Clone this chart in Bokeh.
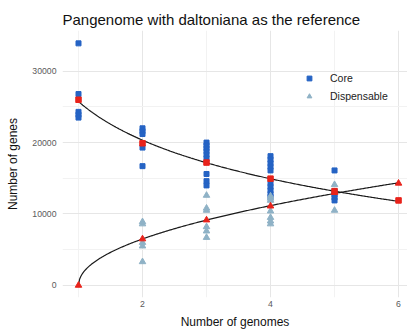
import numpy as np
from bokeh.plotting import figure
from bokeh.models import FixedTicker, Legend, LegendItem, Range1d
from bokeh.embed import file_html
from bokeh.resources import INLINE

# Core genes per genome count (individual combinations)
core_x = [1]*5 + [2]*5 + [3]*9 + [4]*10 + [5]*5
core_y = [33900, 26800, 24300, 23900, 23500,
          22000, 21600, 21200, 19300, 16700,
          20000, 19600, 19200, 18800, 18300, 17800, 15600, 14600, 14000,
          18100, 17600, 17100, 16600, 16100, 14300, 13800, 13300, 12800, 12400,
          16100, 13200, 12700, 12300, 11900]

# Dispensable genes per genome count
disp_x = [2]*5 + [3]*6 + [4]*7 + [5]*2
disp_y = [8900, 8600, 6000, 5500, 3300,
          12600, 10800, 10500, 8200, 7600, 6700,
          12500, 12200, 11900, 10400, 9500, 9000, 8600,
          14100, 10500]

# Mean values per genome count
n_genomes = [1, 2, 3, 4, 5, 6]
core_mean = [26000, 19900, 17200, 14950, 13200, 11900]
disp_mean = [0, 6500, 9150, 11100, 13000, 14300]

x_ticks = [2, 4, 6]
y_ticks = [0, 10000, 20000, 30000]

# Fitted curves: core ~ a + b*ln(n), dispensable ~ a*(n-1)^b
gx = np.linspace(1, 6, 300)
cb, ca = np.polyfit(np.log(n_genomes), core_mean, 1)
core_fit = ca + cb * np.log(gx)
lx = np.log(np.array(n_genomes[1:]) - 1.0)
db, dla = np.polyfit(lx, np.log(disp_mean[1:]), 1)
disp_fit = np.exp(dla) * (gx - 1.0) ** db

FONT = "Liberation Sans"
BLUE = "#2563c4"
LIGHT = "#8fb2c6"
RED = "#e8231b"

p = figure(width=407, height=335, output_backend="svg", toolbar_location=None,
           x_range=Range1d(0.75, 6.14), y_range=Range1d(-1700, 35700),
           min_border_left=62, min_border_right=0, min_border_top=30,
           min_border_bottom=38, title="Pangenome with daltoniana as the reference")
p.outline_line_color = None
p.background_fill_color = "white"
p.title.text_font = FONT
p.title.text_font_size = "15px"
p.title.text_font_style = "normal"
p.title.text_color = "#111111"
p.title.offset = 0
p.title.standoff = 6

for ax in (p.xaxis[0], p.yaxis[0]):
    ax.axis_line_color = None
    ax.major_tick_line_color = None
    ax.minor_tick_line_color = None
    ax.major_tick_out = 0
    ax.major_tick_in = 0
    ax.minor_tick_out = 0
    ax.minor_tick_in = 0
    ax.major_label_text_font = FONT
    ax.major_label_text_font_size = "8.7px"
    ax.major_label_text_color = "#5a5a5a"
    ax.axis_label_text_font = FONT
    ax.axis_label_text_font_size = "12px"
    ax.axis_label_text_font_style = "normal"
    ax.axis_label_text_color = "#111111"

p.xaxis.ticker = FixedTicker(ticks=x_ticks, minor_ticks=[1, 3, 5])
p.yaxis.ticker = FixedTicker(ticks=y_ticks, minor_ticks=[5000, 15000, 25000])
p.xaxis.axis_label = "Number of genomes"
p.yaxis.axis_label = "Number of genes"
p.xaxis.major_label_standoff = 3
p.yaxis.major_label_standoff = 6
p.xaxis.axis_label_standoff = 5
p.yaxis.axis_label_standoff = 9

for g in (p.xgrid[0], p.ygrid[0]):
    g.grid_line_color = "#e6e6e6"
    g.grid_line_width = 1
    g.minor_grid_line_color = "#f2f2f2"
    g.minor_grid_line_width = 1

r_core = p.scatter(core_x, core_y, marker="square", size=5, color=BLUE)
r_disp = p.scatter(disp_x, disp_y, marker="triangle", size=6.5, color=LIGHT)

p.line(gx, core_fit, line_color="#1a1a1a", line_width=1.2)
p.line(gx, disp_fit, line_color="#1a1a1a", line_width=1.2)

p.scatter(n_genomes, core_mean, marker="square", size=5.5, color=RED)
p.scatter(n_genomes, disp_mean, marker="triangle", size=6.5, color=RED)

legend = Legend(items=[LegendItem(label="Core", renderers=[r_core]),
                       LegendItem(label="Dispensable", renderers=[r_disp])],
                location=(241, 195), border_line_color=None,
                background_fill_alpha=0, label_text_font=FONT,
                label_text_font_size="10.5px", label_text_color="#222222",
                glyph_width=12, glyph_height=12, spacing=6, label_standoff=15,
                padding=4, margin=0)
p.add_layout(legend)

open("out.html", "w").write(file_html(p, INLINE))
